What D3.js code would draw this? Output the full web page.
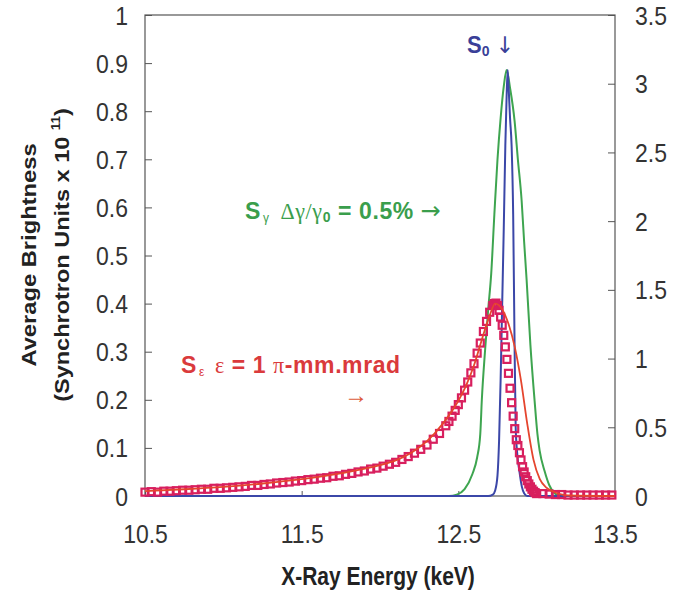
<!DOCTYPE html>
<html>
<head>
<meta charset="utf-8">
<script src="https://cdn.jsdelivr.net/npm/d3@7"></script>
<style>
  body { margin: 0; background: #fff; }
  text { font-family: "Liberation Sans", Arial, Helvetica, sans-serif; }
</style>
</head>
<body>
<div id="graph"></div>
<script>

let width = 694, height = 597;
let x0 = 145, x1 = 615, yTop = 15, yBot = 496;

// tick labels
const energyTicks = [10.5, 11.5, 12.5, 13.5];
const leftTicks = [0, 0.1, 0.2, 0.3, 0.4, 0.5, 0.6, 0.7, 0.8, 0.9, 1];
const rightTicks = [0, 0.5, 1, 1.5, 2, 2.5, 3, 3.5];

// S0 (right axis)
const s0Energy = [10.5, 12.69, 12.72, 12.735, 12.75, 12.76, 12.77, 12.78, 12.79, 12.80, 12.808, 12.815, 12.822, 12.83, 12.84, 12.85, 12.858, 12.866, 12.875, 12.89, 12.905, 12.92, 12.94, 13.5];
const s0Value  = [0, 0, 0.01, 0.04, 0.15, 0.40, 0.85, 1.40, 1.95, 2.55, 2.90, 3.10, 2.95, 2.75, 2.55, 2.05, 1.20, 0.50, 0.32, 0.18, 0.07, 0.02, 0, 0];

// S gamma (right axis)
const sgEnergy = [10.5, 12.44, 12.49, 12.54, 12.59, 12.62, 12.64, 12.65, 12.67, 12.69, 12.71, 12.73, 12.75, 12.77, 12.79, 12.808, 12.83, 12.859, 12.88, 12.904, 12.92, 12.936, 12.96, 12.987, 13.005, 13.019, 13.051, 13.08, 13.114, 13.15, 13.5];
const sgValue  = [0, 0, 0.01, 0.05, 0.16, 0.28, 0.45, 0.70, 1.05, 1.35, 1.62, 2.05, 2.45, 2.75, 2.98, 3.10, 2.97, 2.73, 2.45, 2.15, 1.85, 1.57, 1.10, 0.69, 0.45, 0.33, 0.18, 0.08, 0.02, 0, 0];

// S epsilon, solid line (left axis)
const seEnergy = [10.5, 10.75, 11.0, 11.25, 11.5, 11.75, 12.0, 12.1, 12.2, 12.3, 12.4, 12.5, 12.55, 12.6, 12.65, 12.7, 12.735, 12.78, 12.82, 12.86, 12.9, 12.94, 12.98, 13.02, 13.06, 13.1, 13.15, 13.2, 13.5];
const seValue  = [0.010, 0.014, 0.019, 0.026, 0.035, 0.047, 0.064, 0.074, 0.090, 0.114, 0.150, 0.198, 0.230, 0.272, 0.325, 0.375, 0.400, 0.388, 0.358, 0.310, 0.240, 0.150, 0.075, 0.035, 0.018, 0.010, 0.004, 0.001, 0];

// S epsilon, squares (left axis) - measured on a grid
const sqEnergy = [].concat(
  d3.range(10.5, 12.43, 0.04),
  d3.range(12.44, 12.73, 0.02),
  d3.range(12.73, 13.005, 0.01),
  d3.range(13.04, 13.5, 0.04)
);
const sqValue = [
  0.008, 0.009, 0.008, 0.010, 0.010, 0.011, 0.012, 0.012, 0.013, 0.014,
  0.014, 0.016, 0.016, 0.017, 0.018, 0.019, 0.020, 0.022, 0.022, 0.024,
  0.025, 0.027, 0.028, 0.029, 0.031, 0.032, 0.034, 0.035, 0.037, 0.038,
  0.041, 0.042, 0.045, 0.047, 0.050, 0.052, 0.056, 0.058, 0.062, 0.066,
  0.070, 0.076, 0.082, 0.089, 0.097, 0.106, 0.118, 0.130, 0.146,
  0.155, 0.166, 0.178, 0.190, 0.204, 0.220, 0.237, 0.256, 0.275, 0.297,
  0.318, 0.342, 0.363, 0.382, 0.396,
  0.400, 0.401, 0.396, 0.386, 0.372, 0.355, 0.334, 0.310, 0.284, 0.255,
  0.224, 0.194, 0.166, 0.140, 0.117, 0.105, 0.090, 0.075, 0.061, 0.050,
  0.040, 0.032, 0.025, 0.019, 0.014, 0.010, 0.007, 0.005,
  0.005, 0.004, 0.003, 0.003, 0.002, 0.002, 0.002, 0.002, 0.002, 0.002, 0.002, 0.002
];

let svg = d3.select("#graph").append("svg")
  .attr("width", width)
  .attr("height", height);

svg.append("rect").attr("width", width).attr("height", height).attr("fill", "white");

let x = d3.scaleLinear().domain([10.5, 13.5]).range([x0, x1]);
let yL = d3.scaleLinear().domain([0, 1]).range([yBot, yTop]);
let yR = d3.scaleLinear().domain([0, 3.5]).range([yBot, yTop]);

const zip = (a, b) => a.map((e, i) => [e, b[i]]);
const lineFor = (ys) => d3.line().x(d => x(d[0])).y(d => ys(d[1])).curve(d3.curveMonotoneX);

// Axes (ticks point inward)
let axL = svg.append("g").attr("transform", `translate(${x0},0)`)
  .call(d3.axisLeft(yL).tickValues(leftTicks).tickSize(-7).tickSizeOuter(0).tickFormat(d => d));
axL.selectAll("text").attr("x", 0).attr("dy", 0).attr("transform", "translate(-17,9) scale(1,1.1)");

let axR = svg.append("g").attr("transform", `translate(${x1},0)`)
  .call(d3.axisRight(yR).tickValues(rightTicks).tickSize(-7).tickSizeOuter(0).tickFormat(d => d));
axR.selectAll("text").attr("x", 0).attr("dy", 0).attr("transform", "translate(20,9) scale(1,1.1)");

let axB = svg.append("g").attr("transform", `translate(0,${yBot})`)
  .call(d3.axisBottom(x).tickValues(energyTicks).tickSize(-5).tickSizeOuter(0).tickFormat(d => d));
axB.selectAll("text").attr("y", 0).attr("dy", 0).attr("transform", "translate(0,47) scale(1,1.1)");

svg.selectAll(".domain").remove();
svg.selectAll(".tick line").attr("stroke", "#555");
svg.selectAll(".tick text").attr("fill", "#333").attr("font-size", 23)
  .attr("font-family", "'Liberation Sans', Arial, sans-serif");

// frame
svg.append("rect")
  .attr("x", x0).attr("y", yTop)
  .attr("width", x1 - x0).attr("height", yBot - yTop)
  .attr("fill", "none").attr("stroke", "#555").attr("stroke-width", 1.2);

// curves
svg.append("path").datum(zip(sgEnergy, sgValue))
  .attr("d", lineFor(yR)).attr("fill", "none")
  .attr("stroke", "#3ea550").attr("stroke-width", 2);

svg.append("path").datum(zip(s0Energy, s0Value))
  .attr("d", lineFor(yR)).attr("fill", "none")
  .attr("stroke", "#3b47a8").attr("stroke-width", 2);

svg.append("g").selectAll("rect")
  .data(zip(sqEnergy, sqValue))
  .enter().append("rect")
  .attr("x", d => x(d[0]) - 3.5)
  .attr("y", d => yL(d[1]) - 3.5)
  .attr("width", 7).attr("height", 7)
  .attr("fill", "none")
  .attr("stroke", "#d81f5e").attr("stroke-width", 2.2);

svg.append("path").datum(zip(seEnergy, seValue))
  .attr("d", lineFor(yL)).attr("fill", "none")
  .attr("stroke", "#e5452e").attr("stroke-width", 1.8);

// Axis titles
svg.append("g").attr("transform", "translate(378,585) scale(1,1.2)")
  .append("text").attr("text-anchor", "middle")
  .attr("font-size", 21).attr("font-weight", "bold").attr("fill", "#222")
  .text("X-Ray Energy (keV)");

svg.append("g").attr("transform", "translate(36,255) rotate(-90) scale(1.13,1)")
  .append("text").attr("text-anchor", "middle")
  .attr("font-size", 21).attr("font-weight", "bold").attr("fill", "#222")
  .text("Average Brightness");

let yt2 = svg.append("g").attr("transform", "translate(69,255) rotate(-90) scale(1.12,1)")
  .append("text").attr("text-anchor", "middle")
  .attr("font-size", 21).attr("font-weight", "bold").attr("fill", "#222");
yt2.append("tspan").text("(Synchrotron Units x 10 ");
yt2.append("tspan").attr("font-size", 12).attr("dy", -9).text("11");
yt2.append("tspan").attr("dy", 9).text(")");

// Annotations
let s0 = svg.append("g").attr("transform", "translate(467,53) scale(1,1.05)")
  .append("text").attr("fill", "#3a3f98").attr("font-weight", "bold");
s0.append("tspan").attr("font-size", 22).text("S");
s0.append("tspan").attr("font-size", 14).attr("dy", 3).text("0");
s0.append("tspan").attr("font-size", 22).attr("font-weight", "normal").attr("dx", 6).attr("dy", -3)
  .attr("font-family", "'DejaVu Sans', sans-serif").text("↓");

let sg = svg.append("g").attr("transform", "translate(245,219) scale(1,1.02)")
  .append("text").attr("fill", "#3a9e4c").attr("font-weight", "bold").attr("letter-spacing", 0.6);
sg.append("tspan").attr("font-size", 23).text("S");
sg.append("tspan").attr("font-size", 12).attr("font-weight", "normal").attr("dx", 2).attr("dy", 3).text("γ");
sg.append("tspan").attr("font-size", 22).attr("font-weight", "normal").attr("dx", 11).attr("dy", -3)
  .attr("font-family", "'Liberation Serif', serif").text("Δγ/γ");
sg.append("tspan").attr("font-size", 14).attr("dy", 3).text("0");
sg.append("tspan").attr("font-size", 23).attr("dy", -3).text(" = 0.5% ");
sg.append("tspan").attr("font-size", 24).attr("font-weight", "normal").attr("letter-spacing", 0)
  .attr("font-family", "'DejaVu Sans', sans-serif").text("→");

let se = svg.append("g").attr("transform", "translate(181,373) scale(1,1.02)")
  .append("text").attr("fill", "#da3a3c").attr("font-weight", "bold").attr("letter-spacing", 0.6);
se.append("tspan").attr("font-size", 23).text("S");
se.append("tspan").attr("font-size", 12).attr("font-weight", "normal").attr("dx", 2).attr("dy", 3).text("ε");
se.append("tspan").attr("font-size", 22).attr("font-weight", "normal").attr("dx", 10).attr("dy", -3)
  .attr("font-family", "'Liberation Serif', serif").text("ε");
se.append("tspan").attr("font-size", 23).text(" = 1 ");
se.append("tspan").attr("font-size", 22).attr("font-weight", "normal")
  .attr("font-family", "'Liberation Serif', serif").text("π");
se.append("tspan").attr("font-size", 23).text("-mm.mrad");

svg.append("text").attr("x", 344).attr("y", 403)
  .attr("font-size", 24).attr("fill", "#dc5a3a")
  .attr("font-family", "'DejaVu Sans', sans-serif").text("→");

</script>
</body>
</html>
